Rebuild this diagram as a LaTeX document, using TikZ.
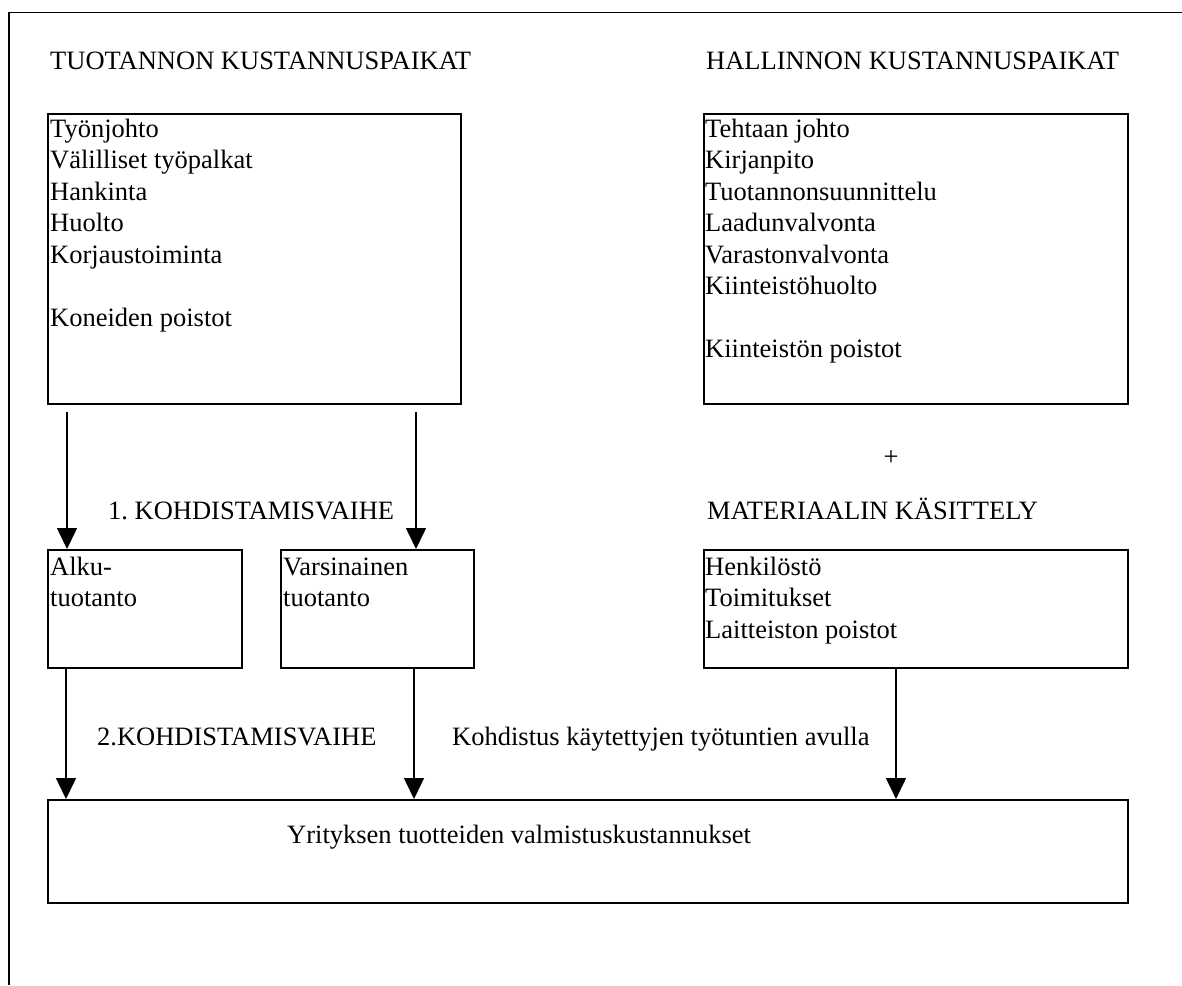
\documentclass[tikz,border=0pt]{standalone}
\usepackage{fontspec}
\setmainfont{Liberation Serif}
\usetikzlibrary{arrows.meta}

% rows of left-aligned text; the baseline is that of the first row
\newcommand\linestack[1]{\vtop{\halign{##\hfil\cr#1\crcr}}}

\begin{document}
\frenchspacing
\begin{tikzpicture}[x=1pt,y=-1pt,
  font=\fontsize{26.5}{31.5}\selectfont,
  frame/.style={line width=1.8pt},
  box/.style={draw, line width=1.8pt, rectangle, inner sep=0pt, anchor=north west},
  txt/.style={anchor=base west, inner sep=0pt},
  arr/.style={line width=1.5pt, -{Triangle[width=20pt,length=21pt]}}]

\useasboundingbox (0,0) rectangle (1182,985);

% open outer frame: top and left sides only
\draw[frame] (9,985) -- (9,12.5) -- (1182,12.5);

% headings
\node[txt] (h1) at (50,69) {TUOTANNON KUSTANNUSPAIKAT};
\node[txt] (h2) at (706,69) {HALLINNON KUSTANNUSPAIKAT};

% cost centre boxes
\node[box, minimum width=413pt, minimum height=290pt] (box1) at (47,113) {};
\node[box, minimum width=424pt, minimum height=290pt] (box2) at (703,113) {};

\node[txt] (l1) at (50,137) {\linestack{Työnjohto\cr Välilliset työpalkat\cr Hankinta\cr Huolto\cr Korjaustoiminta\cr\cr Koneiden poistot}};
\node[txt] (l2) at (705,137) {\linestack{Tehtaan johto\cr Kirjanpito\cr Tuotannonsuunnittelu\cr Laadunvalvonta\cr Varastonvalvonta\cr Kiinteistöhuolto\cr\cr Kiinteistön poistot}};

\node[anchor=base, inner sep=0pt] (plus) at (891,465) {+};

\node[txt] (k1) at (108,519) {1. KOHDISTAMISVAIHE};
\node[txt] (h3) at (707,519) {MATERIAALIN KÄSITTELY};

% second row of boxes
\node[box, minimum width=194pt, minimum height=118pt] (alku) at (47,549) {};
\node[box, minimum width=193pt, minimum height=118pt] (varsin) at (280,549) {};
\node[box, minimum width=424pt, minimum height=118pt] (henk) at (703,549) {};

\node[txt] (l3) at (50,575) {\linestack{Alku-\cr tuotanto}};
\node[txt] (l4) at (283,575) {\linestack{Varsinainen\cr tuotanto}};
\node[txt] (l5) at (705,575) {\linestack{Henkilöstö\cr Toimitukset\cr Laitteiston poistot}};

\node[txt] (k2) at (97,745) {2.KOHDISTAMISVAIHE};
\node[txt] (k3) at (452,745) {Kohdistus käytettyjen työtuntien avulla};

% result box
\node[box, minimum width=1080pt, minimum height=103pt] (final) at (47,799) {};
\node[txt] (l6) at (287,843) {Yrityksen tuotteiden valmistuskustannukset};

% first allocation stage
\draw[arr] ([shift={(20,7)}]box1.south west) -- ([shift={(20,0)}]alku.north west);
\draw[arr] ([shift={(369,7)}]box1.south west) -- ([shift={(136,0)}]varsin.north west);

% second allocation stage
\draw[arr] ([shift={(19,0)}]alku.south west) -- ([shift={(19,0)}]final.north west);
\draw[arr] ([shift={(134,0)}]varsin.south west) -- ([shift={(367,0)}]final.north west);
\draw[arr] ([shift={(193,0)}]henk.south west) -- ([shift={(849,0)}]final.north west);

\end{tikzpicture}
\end{document}
